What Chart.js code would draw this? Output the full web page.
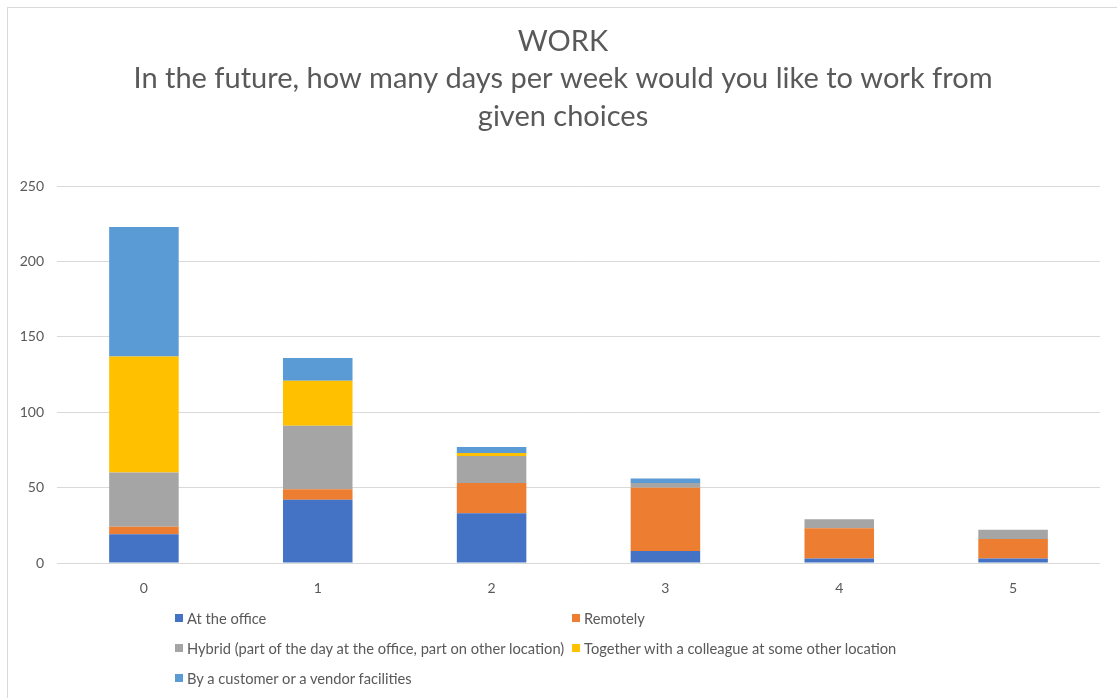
<!DOCTYPE html>
<html>
<head>
<meta charset="utf-8">
<script src="https://cdn.jsdelivr.net/npm/chart.js@4.4.1/dist/chart.umd.min.js"></script>
<style>
    html, body { margin: 0; padding: 0; background: #fff; }
    body { width: 1117px; height: 698px; position: relative; overflow: hidden; font-family: Lato, 'Liberation Sans', sans-serif; }
    #frame { position: absolute; left: 7px; top: 7px; width: 1200px; height: 800px; border-left: 1px solid #d9d9d9; border-top: 1px solid #d9d9d9; }
    #wrap { position: absolute; left: 0; top: 0; width: 1117px; height: 698px; }
    #legend { position: absolute; left: 175px; top: 608px; width: 800px; display: grid; grid-template-columns: 397px auto; row-gap: 10px; color: #595959; font-size: 14.7px; }
    #legend div { display: flex; align-items: center; height: 20px; white-space: nowrap; }
    #legend span.box { display: inline-block; width: 8px; height: 8px; margin-right: 4px; }
</style>
</head>
<body>
<div id="frame"></div>
<div id="wrap"><canvas id="chart"></canvas></div>
<div id="legend"></div>
<script>
// Data
const categories = ['0', '1', '2', '3', '4', '5'];
const atOffice = [19, 42, 33, 8, 3, 3];
const remotely = [5, 7, 20, 42, 20, 13];
const hybrid = [36, 42, 18, 3, 6, 6];
const together = [77, 30, 2, 0, 0, 0];
const customer = [86, 15, 4, 3, 0, 0];
const yTicks = [0, 50, 100, 150, 200, 250];

const seriesNames = [
    'At the office',
    'Remotely',
    'Hybrid (part of the day at the office, part on other location)',
    'Together with a colleague at some other location',
    'By a customer or a vendor facilities'
];
const seriesColors = ['#4472C4', '#ED7D31', '#A5A5A5', '#FFC000', '#5B9BD5'];
const seriesValues = [atOffice, remotely, hybrid, together, customer];

const textColor = '#595959';

const datasets = seriesValues.map((vals, i) => ({
    label: seriesNames[i],
    data: vals,
    backgroundColor: seriesColors[i],
    borderWidth: 0,
    barPercentage: 0.4,
    categoryPercentage: 1
}));

const ctx = document.getElementById('chart').getContext('2d');
const chart = new Chart(ctx, {
    type: 'bar',
    data: { labels: categories, datasets: datasets },
    options: {
        responsive: true,
        maintainAspectRatio: false,
        animation: false,
        layout: { padding: { left: 10, right: 1, top: 0, bottom: 0 } },
        plugins: {
            legend: { display: false },
            tooltip: { enabled: false },
            title: {
                display: true,
                text: ['WORK', 'In the future, how many days per week would you like to work from', 'given choices'],
                color: textColor,
                font: { family: 'Lato', size: 29, weight: 'normal', lineHeight: 1.29 },
                padding: { top: 23, bottom: 51 }
            }
        },
        scales: {
            x: {
                stacked: true,
                grid: { display: false },
                border: { display: false },
                ticks: { color: textColor, font: { family: 'Lato', size: 14 }, padding: 9 },
                afterFit: (s) => { s.height = 135; }
            },
            y: {
                stacked: true,
                min: 0,
                max: 250,
                afterBuildTicks: (s) => { s.ticks = yTicks.map(v => ({ value: v })); },
                grid: { color: '#d9d9d9', lineWidth: 1, drawTicks: false },
                border: { display: false },
                ticks: { color: textColor, font: { family: 'Lato', size: 14 }, padding: 13 },
                afterFit: (s) => { s.width = 47; }
            },
            // empty spacer on the right so the title centres like the original
            yRight: {
                position: 'right',
                grid: { display: false },
                border: { display: false },
                ticks: { display: false },
                afterFit: (s) => { s.width = 16; }
            }
        }
    }
});

// Legend in two columns, Excel style
const legend = document.getElementById('legend');
chart.data.datasets.forEach(ds => {
    const item = document.createElement('div');
    item.innerHTML = `<span class="box" style="background:${ds.backgroundColor}"></span>${ds.label}`;
    legend.appendChild(item);
});
</script>
</body>
</html>
